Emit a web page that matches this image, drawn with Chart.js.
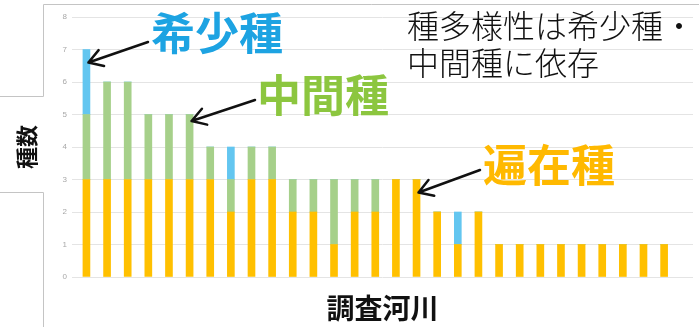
<!DOCTYPE html>
<html>
<head>
<meta charset="utf-8">
<script src="https://cdn.jsdelivr.net/npm/chart.js@4"></script>
<style>
  html, body { margin: 0; padding: 0; background: #fff; }
  #wrap { width: 699px; height: 327px; position: relative; }
</style>
</head>
<body>
<div id="wrap"><canvas id="chart"></canvas></div>
<script>
// 調査河川ごとの種数（遍在種・中間種・希少種の内訳）
const rivers = [1, 2, 3, 4, 5, 6, 7, 8, 9, 10, 11, 12, 13, 14, 15, 16, 17, 18, 19, 20, 21, 22, 23, 24, 25, 26, 27, 28, 29];
const ubiquitous = [3, 3, 3, 3, 3, 3, 3, 2, 3, 3, 2, 2, 1, 2, 2, 3, 3, 2, 1, 2, 1, 1, 1, 1, 1, 1, 1, 1, 1];
const intermediate = [2, 3, 3, 2, 2, 2, 1, 1, 1, 1, 1, 1, 2, 1, 1, 0, 0, 0, 0, 0, 0, 0, 0, 0, 0, 0, 0, 0, 0];
const rare = [2, 0, 0, 0, 0, 0, 0, 1, 0, 0, 0, 0, 0, 0, 0, 0, 0, 0, 1, 0, 0, 0, 0, 0, 0, 0, 0, 0, 0];
const yTicks = [0, 1, 2, 3, 4, 5, 6, 7, 8];

const JP = '"Noto Sans CJK JP", "Noto Sans", sans-serif';

const toPoints = arr => arr.map((v, i) => ({ x: i, y: v }));

// callouts: label text + arrow pointing at a bar (index, value)
const callouts = [
  { text: '希少種', color: '#1DA3E2', cx: 217, cy: 33, from: [148, 42], bar: 0, at: 6.6 },
  { text: '中間種', color: '#8CC63F', cx: 323, cy: 95, from: [255, 100], bar: 5, at: 4.8 },
  { text: '遍在種', color: '#FFB900', cx: 549, cy: 165, from: [480, 170], bar: 16, at: 2.6 }
];
const noteLines = ['種多様性は希少種・', '中間種に依存'];

function arrow(ctx, x0, y0, x1, y1) {
  const a = Math.atan2(y1 - y0, x1 - x0);
  const len = 16, spread = 0.55;
  ctx.beginPath();
  ctx.moveTo(x0, y0);
  ctx.lineTo(x1, y1);
  ctx.moveTo(x1 - len * Math.cos(a - spread), y1 - len * Math.sin(a - spread));
  ctx.lineTo(x1, y1);
  ctx.lineTo(x1 - len * Math.cos(a + spread), y1 - len * Math.sin(a + spread));
  ctx.stroke();
}

const decorations = {
  id: 'decorations',
  beforeDraw(chart) {
    const ctx = chart.ctx;
    ctx.save();
    ctx.strokeStyle = '#c4c4c4';
    ctx.lineWidth = 1;
    ctx.beginPath();
    ctx.moveTo(43.5, 327);
    ctx.lineTo(43.5, 192.5);
    ctx.lineTo(0, 192.5);
    ctx.moveTo(0, 96.5);
    ctx.lineTo(43.5, 96.5);
    ctx.lineTo(43.5, 4.5);
    ctx.lineTo(699, 4.5);
    ctx.stroke();
    ctx.restore();
  },
  afterDatasetsDraw(chart) {
    const { ctx, scales: { x, y } } = chart;
    ctx.save();
    ctx.textBaseline = 'middle';
    ctx.textAlign = 'center';
    callouts.forEach(c => {
      ctx.font = 'bold 44px ' + JP;
      ctx.fillStyle = c.color;
      ctx.fillText(c.text, c.cx, c.cy);
      ctx.strokeStyle = '#111';
      ctx.lineWidth = 2.5;
      ctx.lineCap = 'round';
      ctx.lineJoin = 'round';
      arrow(ctx, c.from[0], c.from[1], x.getPixelForValue(c.bar) + 2, y.getPixelForValue(c.at));
    });
    ctx.textAlign = 'left';
    ctx.fillStyle = '#111';
    ctx.font = '300 32px ' + JP;
    noteLines.forEach((t, i) => ctx.fillText(t, 407, 26 + i * 37));
    ctx.restore();
  }
};

new Chart('chart', {
  type: 'bar',
  data: {
    labels: rivers,
    datasets: [
      { label: '遍在種', data: toPoints(ubiquitous), backgroundColor: '#FFC000' },
      { label: '中間種', data: toPoints(intermediate), backgroundColor: '#A6D08A' },
      { label: '希少種', data: toPoints(rare), backgroundColor: '#63C6F0' }
    ]
  },
  options: {
    responsive: true,
    maintainAspectRatio: false,
    animation: false,
    layout: { padding: { top: 17, right: 6, bottom: 0, left: 0 } },
    datasets: { bar: { barThickness: 7, borderWidth: 0 } },
    plugins: { legend: { display: false }, tooltip: { enabled: false } },
    scales: {
      x: {
        type: 'linear',
        stacked: true,
        offset: false,
        min: -0.7,
        max: 29.4,
        grid: { display: false, drawTicks: false },
        border: { display: false },
        ticks: { display: false },
        title: {
          display: true,
          text: '調査河川',
          color: '#111',
          font: { family: JP, size: 28, weight: 'bold' },
          padding: { top: 0, bottom: 2 }
        },
        afterFit(scale) { scale.height = 50; }
      },
      y: {
        stacked: true,
        min: 0,
        max: 8,
        afterBuildTicks(scale) { scale.ticks = yTicks.map(v => ({ value: v })); },
        grid: { color: '#e4e4e4', drawTicks: false },
        border: { display: false },
        ticks: { color: '#a8a8a8', font: { size: 8 }, padding: 5 },
        title: {
          display: true,
          text: '種数',
          color: '#111',
          font: { family: JP, size: 22, weight: 'bold' },
          padding: { top: 13, bottom: 0 }
        },
        afterFit(scale) { scale.width = 72; }
      }
    }
  },
  plugins: [decorations]
});
</script>
</body>
</html>
